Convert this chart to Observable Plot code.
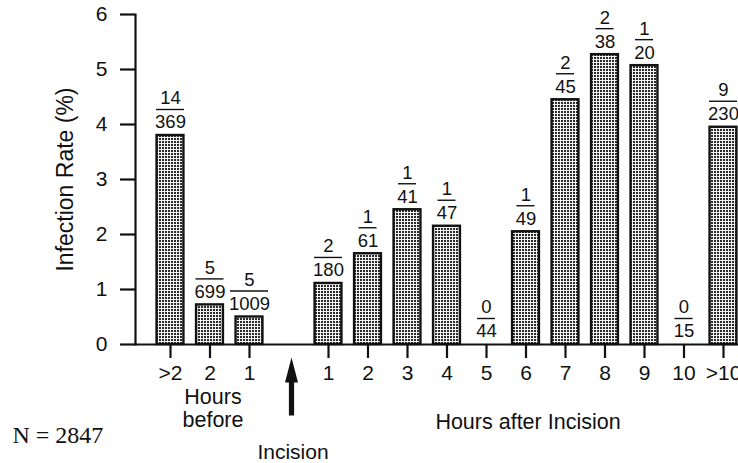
<!DOCTYPE html>
<html>
<head>
<meta charset="utf-8">
<script src="https://cdn.jsdelivr.net/npm/d3@7"></script>
<script src="https://cdn.jsdelivr.net/npm/@observablehq/plot@0.6"></script>
<style>
  html, body { margin: 0; padding: 0; background: #fff; }
  #chart { width: 738px; height: 463px; overflow: hidden; }
</style>
</head>
<body>
<div id="chart"></div>
<script>
// Category slots along the x axis ("inc" is the empty incision slot)
const keys = ["b>2", "b2", "b1", "inc", "a1", "a2", "a3", "a4", "a5", "a6", "a7", "a8", "a9", "a10", "a>10"];
const tickLabels = [">2", "2", "1", "", "1", "2", "3", "4", "5", "6", "7", "8", "9", "10", ">10"];
// Bars (all slots except the incision slot)
const barKeys = ["b>2", "b2", "b1", "a1", "a2", "a3", "a4", "a5", "a6", "a7", "a8", "a9", "a10", "a>10"];
const rates = [3.8, 0.72, 0.5, 1.11, 1.65, 2.45, 2.15, 0, 2.05, 4.45, 5.27, 5.07, 0, 3.95];
const infected = [14, 5, 5, 2, 1, 1, 1, 0, 1, 2, 2, 1, 0, 9];
const totals = [369, 699, 1009, 180, 61, 41, 47, 44, 49, 45, 38, 20, 15, 230];
const yTicks = [0, 1, 2, 3, 4, 5, 6];
const yLabel = "Infection Rate (%)";
const beforeLabel = "Hours\nbefore";
const afterLabel = "Hours after Incision";
const incisionLabel = "Incision";
const nLabel = "N = 2847";

const data = barKeys.map((k, i) => ({key: k, rate: rates[i], num: infected[i], den: totals[i]}));
const labelOf = new Map(keys.map((k, i) => [k, tickLabels[i]]));
const font = "'Liberation Sans', Arial, Helvetica, sans-serif";

// fraction bar lines, grouped by denominator digit count
const lineMarks = [[2, 4.4], [3, -0.6], [4, -5.6]].map(([digits, inset]) =>
  Plot.tickY(data.filter(d => String(d.den).length === digits), {
    x: "key", y: "rate", dy: -26, insetLeft: inset, insetRight: inset,
    stroke: "#111", strokeWidth: 1.4
  })
);

const arrowShape = {
  draw(context, l) {
    const hw = 6.5, hh = 25, sw = 2.6;
    context.moveTo(-sw, 0);
    context.lineTo(-sw, -l + hh);
    context.lineTo(-hw, -l + hh);
    context.lineTo(0, -l);
    context.lineTo(hw, -l + hh);
    context.lineTo(sw, -l + hh);
    context.lineTo(sw, 0);
    context.closePath();
  }
};

const chart = Plot.plot({
  width: 738,
  height: 463,
  marginLeft: 135,
  marginRight: 0,
  marginTop: 14,
  marginBottom: 119,
  style: {fontFamily: font, color: "#111", background: "#fff", overflow: "hidden"},
  x: {type: "band", domain: keys, range: [150.25, 742.75], paddingInner: 0.32, paddingOuter: 0.16, round: false},
  y: {domain: [0, 6]},
  marks: [
    Plot.rectY(data, {x: "key", y: "rate", fill: "url(#dots)", stroke: "#111", strokeWidth: 2.4}),
    Plot.ruleY([0], {stroke: "#111", strokeWidth: 2.2}),
    Plot.frame({anchor: "left", stroke: "#111", strokeWidth: 2.2}),
    Plot.axisY({ticks: yTicks, tickFormat: d => String(d), tickSize: 15, tickPadding: 13, fontSize: 21, strokeWidth: 2.2, label: null}),
    Plot.axisX({ticks: keys.filter(k => k !== "inc"), tickFormat: k => labelOf.get(k), tickSize: 14, tickPadding: 7, fontSize: 21, strokeWidth: 2.2, label: null}),
    Plot.text(data, {x: "key", y: "rate", text: d => String(d.num), dy: -37, fontSize: 18.5}),
    Plot.text(data, {x: "key", y: "rate", text: d => String(d.den), dy: -13, fontSize: 18.5}),
    ...lineMarks,
    Plot.text([yLabel], {frameAnchor: "left", text: d => d, rotate: -90, textAnchor: "middle", dx: -70, fontSize: 23}),
    Plot.text([beforeLabel], {x: () => "b2", frameAnchor: "bottom", text: d => d, dx: 3, dy: 82, fontSize: 21.5, lineHeight: 1.05}),
    Plot.text([afterLabel], {x: () => "a6", frameAnchor: "bottom", text: d => d, dx: 2, dy: 84, fontSize: 21.5}),
    Plot.text([incisionLabel], {x: () => "inc", frameAnchor: "bottom", text: d => d, dx: 4, dy: 114, fontSize: 21}),
    Plot.vector([0], {x: () => "inc", frameAnchor: "bottom", length: 58, rotate: 0, anchor: "start", dy: 71, dx: 2.5, shape: arrowShape, fill: "#111", stroke: "none"}),
    Plot.text([nLabel], {frameAnchor: "bottom-left", text: d => d, textAnchor: "start", dx: -123, dy: 98, fontSize: 24, fontFamily: "'Liberation Serif', 'Times New Roman', serif"})
  ]
});

// stipple pattern for the bars
const ns = "http://www.w3.org/2000/svg";
const defs = document.createElementNS(ns, "defs");
const pattern = document.createElementNS(ns, "pattern");
pattern.setAttribute("id", "dots");
pattern.setAttribute("patternUnits", "userSpaceOnUse");
pattern.setAttribute("width", "3");
pattern.setAttribute("height", "3");
const bg = document.createElementNS(ns, "rect");
bg.setAttribute("width", "3"); bg.setAttribute("height", "3"); bg.setAttribute("fill", "#f4f4f4");
const dot = document.createElementNS(ns, "rect");
dot.setAttribute("width", "2"); dot.setAttribute("height", "2"); dot.setAttribute("fill", "#2a2a2a");
pattern.appendChild(bg); pattern.appendChild(dot);
defs.appendChild(pattern);
chart.insertBefore(defs, chart.firstChild);

document.getElementById("chart").appendChild(chart);
</script>
</body>
</html>
